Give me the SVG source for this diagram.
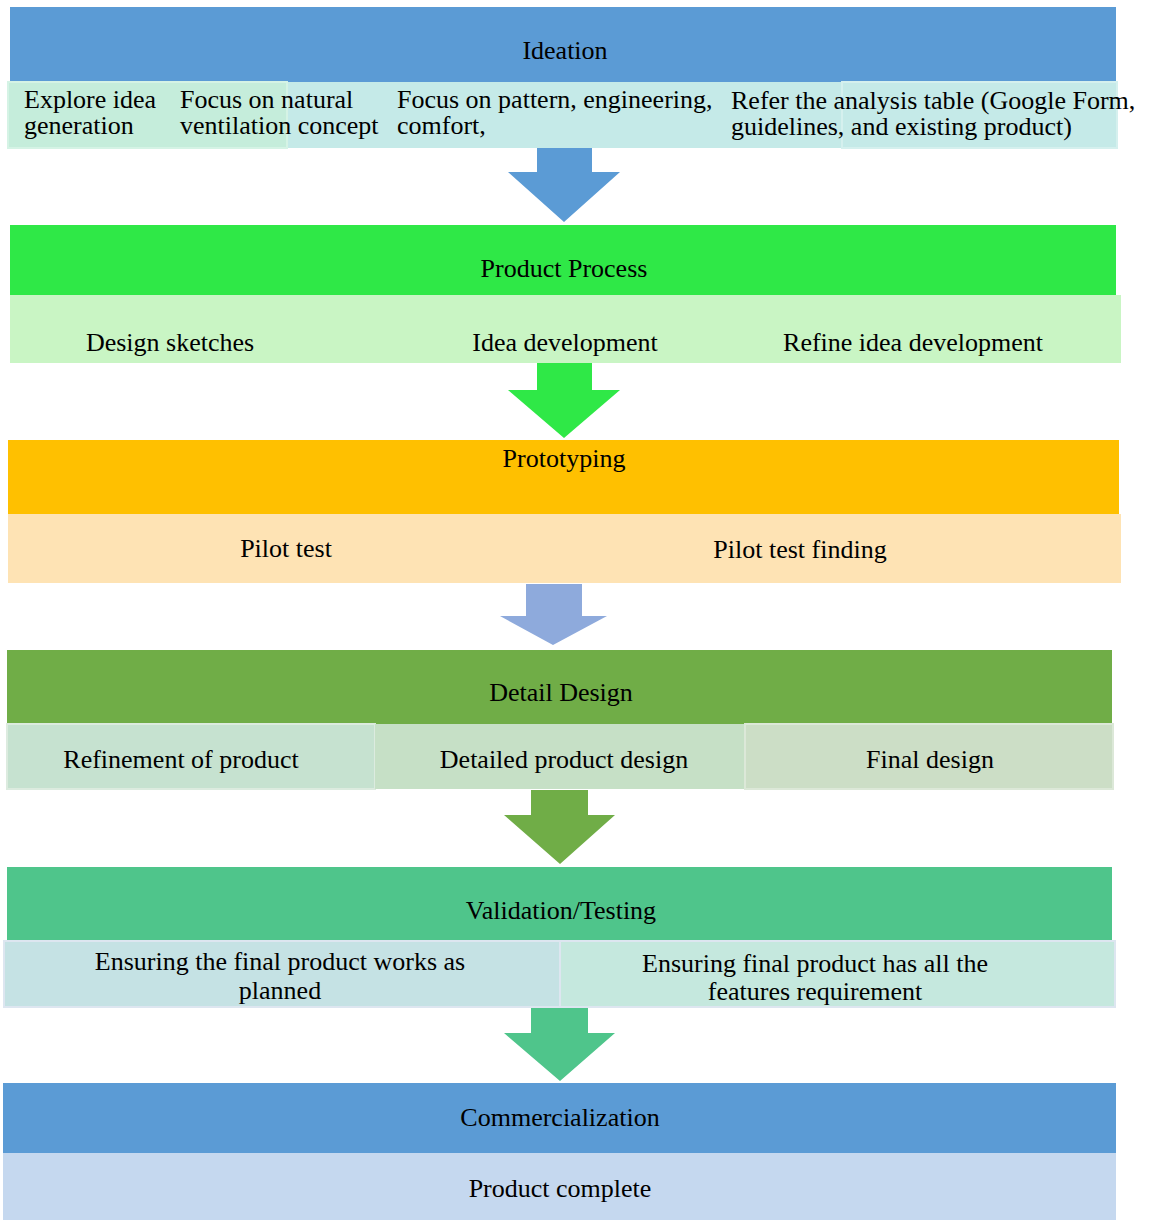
<svg xmlns="http://www.w3.org/2000/svg" width="1153" height="1222" viewBox="0 0 1153 1222" font-family="'Liberation Serif', 'Times New Roman', Times, 'DejaVu Serif', serif">
<style>
text{font-family:'Liberation Serif','Times New Roman',Times,'DejaVu Serif',serif;font-size:26px;fill:#000}
.c{text-anchor:middle}
</style>
<rect width="1153" height="1222" fill="#fff"/>
<g id="ideation">
<rect x="10" y="7" width="1106" height="75" fill="#5B9BD5"/>
<text class="c" x="565" y="59">Ideation</text>
<rect x="287" y="82" width="555" height="66" fill="#C5EAE8"/>
<rect x="842" y="82" width="275" height="66" fill="#C5EAE8" stroke="#D5F0EE" stroke-width="2"/>
<rect x="8" y="82" width="279" height="66" fill="#C5EDDB" stroke="#D5F3E5" stroke-width="2"/>
<text x="24" y="108">Explore idea<tspan x="24" dy="26">generation</tspan></text>
<text x="180" y="108">Focus on natural<tspan x="180" dy="26">ventilation concept</tspan></text>
<text x="397" y="108">Focus on pattern, engineering,<tspan x="397" dy="26">comfort,</tspan></text>
<text x="731" y="109">Refer the analysis table (Google Form,<tspan x="731" dy="26">guidelines, and existing product)</tspan></text>
</g>
<g id="product-process">
<rect x="10" y="225" width="1106" height="70" fill="#2FE847"/>
<text class="c" x="564" y="277">Product Process</text>
<rect x="10" y="295" width="1111" height="68" fill="#C9F5C4"/>
<text class="c" x="170" y="351">Design sketches</text>
<text class="c" x="565" y="351">Idea development</text>
<text class="c" x="913" y="351">Refine idea development</text>
</g>
<g id="prototyping">
<rect x="8" y="440" width="1111" height="74" fill="#FFC000"/>
<text class="c" x="564" y="467">Prototyping</text>
<rect x="8" y="514" width="1113" height="69" fill="#FEE3B4"/>
<text class="c" x="286" y="557">Pilot test</text>
<text class="c" x="800" y="558">Pilot test finding</text>
</g>
<g id="detail-design">
<rect x="7" y="650" width="1105" height="74" fill="#70AD47"/>
<text class="c" x="561" y="701">Detail Design</text>
<rect x="7" y="724" width="368" height="65" fill="#C6E2D0" stroke="#DCEBDF" stroke-width="2"/>
<rect x="375" y="724" width="370" height="65" fill="#C6E0C6"/>
<rect x="745" y="724" width="368" height="65" fill="#CCDEC6" stroke="#DCE8D8" stroke-width="2"/>
<text class="c" x="181" y="768">Refinement of product</text>
<text class="c" x="564" y="768">Detailed product design</text>
<text class="c" x="930" y="768">Final design</text>
</g>
<g id="validation">
<rect x="7" y="867" width="1105" height="74" fill="#4FC58B"/>
<text class="c" x="561" y="919">Validation/Testing</text>
<rect x="4" y="941" width="556" height="66" fill="#C5E2E4" stroke="#DDE6F0" stroke-width="2"/>
<rect x="560" y="941" width="555" height="66" fill="#C5E8DE" stroke="#DDE6F0" stroke-width="2"/>
<text class="c" x="280" y="970">Ensuring the final product works as<tspan x="280" dy="29">planned</tspan></text>
<text class="c" x="815" y="972">Ensuring final product has all the<tspan x="815" dy="28">features requirement</tspan></text>
</g>
<g id="commercialization">
<rect x="3" y="1083" width="1113" height="70" fill="#5B9BD5"/>
<text class="c" x="560" y="1126">Commercialization</text>
<rect x="3" y="1153" width="1113" height="67" fill="#C5D8EF"/>
<text class="c" x="560" y="1197">Product complete</text>
</g>
<g id="connectors">
<polygon points="537,148 592,148 592,172 620,172 564,222 508,172 537,172" fill="#5B9BD5"/>
<polygon points="537,363 592,363 592,390 620,390 564,438 508,390 537,390" fill="#2FE847"/>
<polygon points="526,584 582,584 582,616 607,616 553,645 500,616 526,616" fill="#8EAADC"/>
<polygon points="531,790 588,790 588,815 615,815 560,864 504,815 531,815" fill="#70AD47"/>
<polygon points="531,1008 588,1008 588,1033 615,1033 560,1081 504,1033 531,1033" fill="#4FC58B"/>
</g>
</svg>
